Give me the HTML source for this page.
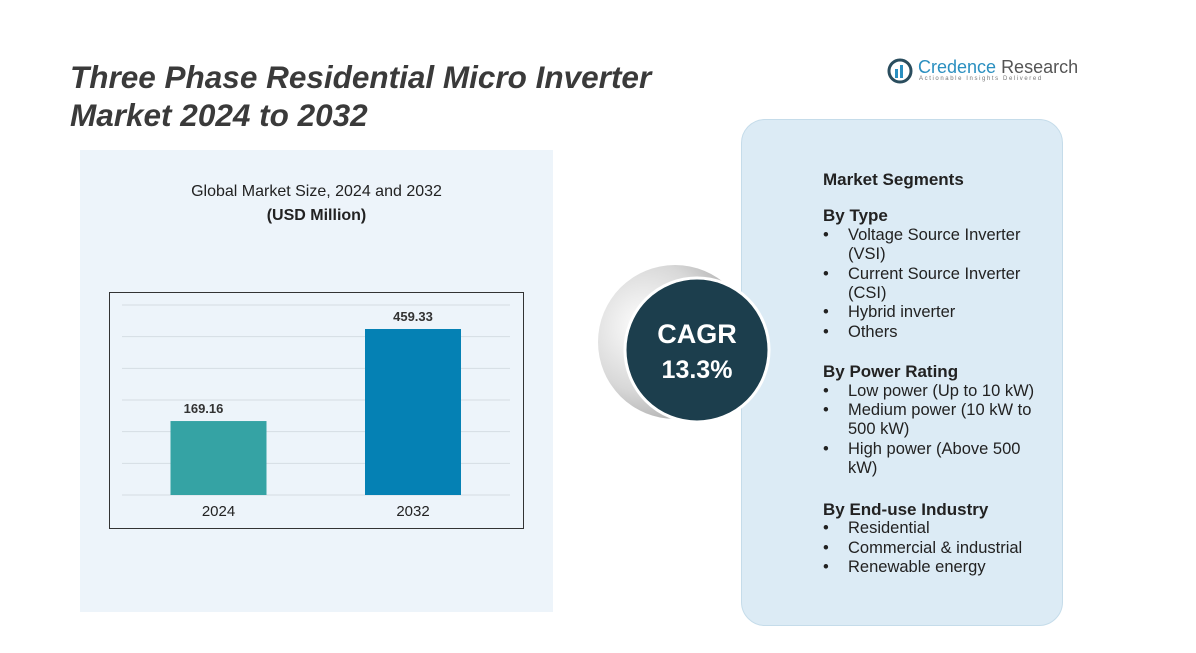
<!DOCTYPE html>
<html><head><meta charset="utf-8"><style>
body{margin:0;width:1196px;height:653px;background:#fff;position:relative;overflow:hidden;font-family:"Liberation Sans",sans-serif;color:#222}
.abs{position:absolute}
h1{position:absolute;left:70px;top:58px;margin:0;font-size:31.5px;line-height:38px;font-style:italic;font-weight:bold;color:#3a3a3a}
.seg{left:823px;top:170px;font-size:16.5px;line-height:19.4px;color:#222}
.seg b{display:block;font-size:17px}
.seg ul{margin:0;padding:0;list-style:none}
.seg li{position:relative;padding-left:25px;width:200px}
.seg li:before{content:"•";position:absolute;left:0}
</style></head><body>
<div class="abs" style="left:80px;top:150px;width:473px;height:462px;background:#edf4fa"></div>
<h1>Three Phase Residential Micro Inverter<br>Market 2024 to 2032</h1>
<div class="abs" style="left:887px;top:58px;">
 <svg width="28" height="26" class="abs" style="left:0;top:0"><circle cx="13" cy="13" r="11" fill="none" stroke="#2a4d5e" stroke-width="3"/><rect x="8" y="11" width="3" height="9" fill="#2a8fc0"/><rect x="13" y="7" width="3" height="13" fill="#2a8fc0"/></svg>
 <div class="abs" style="left:31px;top:-1px;font-size:18px;white-space:nowrap;color:#2a8fc0">Credence <span style="color:#555">Research</span></div>
 <div class="abs" style="left:32px;top:18px;font-size:6px;letter-spacing:1.6px;white-space:nowrap;color:#777">Actionable Insights Delivered</div>
</div>
<div class="abs" style="left:80px;width:473px;top:180px;text-align:center;font-size:16px;line-height:24px">Global Market Size, 2024 and 2032<br><b>(USD Million)</b></div>
<svg class="abs" style="left:0;top:0" width="1196" height="653" id="chart">
 <rect x="109.5" y="292.5" width="414" height="236" fill="none" stroke="#333" stroke-width="1"/>
 <g id="grid"></g><g id="bars"></g>
</svg>
<div class="abs" style="left:741px;top:119px;width:320px;height:505px;background:#dcebf5;border:1.5px solid #c5dcea;border-radius:24px"></div>
<svg class="abs" style="left:0;top:0" width="1196" height="653">
 <defs><radialGradient id="halo" cx="0.3" cy="0.4" r="0.7"><stop offset="0" stop-color="#fff"/><stop offset="0.6" stop-color="#d8d8d8"/><stop offset="1" stop-color="#a8a8a8"/></radialGradient></defs>
 <circle cx="675" cy="342" r="77" fill="url(#halo)"/>
 <circle cx="697" cy="350" r="72" fill="#1c3e4d" stroke="#fff" stroke-width="3"/>
 <text x="697" y="343" text-anchor="middle" fill="#fff" font-size="27" font-weight="bold">CAGR</text>
 <text x="697" y="378" text-anchor="middle" fill="#fff" font-size="25" font-weight="bold">13.3%</text>
</svg>
<div class="abs seg">
<b style="margin-bottom:17px">Market Segments</b>
<b>By Type</b>
<ul><li>Voltage Source Inverter (VSI)</li><li>Current Source Inverter (CSI)</li><li>Hybrid inverter</li><li>Others</li></ul>
<b style="margin-top:20px">By Power Rating</b>
<ul><li>Low power (Up to 10 kW)</li><li>Medium power (10 kW to 500 kW)</li><li style="width:185px">High power (Above 500 kW)</li></ul>
<b style="margin-top:21px">By End-use Industry</b>
<ul><li>Residential</li><li>Commercial &amp; industrial</li><li>Renewable energy</li></ul>
</div>
<script>
const categories=["2024","2032"];
const values=[169.16,459.33];
const valueLabels=["169.16","459.33"];
const colors=["#35a3a4","#0581b4"];
const yMin=-64, yMax=535, nGrid=6;
const y0=495, yTop=305;
const scale=(y0-yTop)/(yMax-yMin);
function barTop(v){return y0-(v-yMin)*scale;}
function xCenter(i){return 218.5+i*194.5;}
const ns="http://www.w3.org/2000/svg";
const grid=document.getElementById('grid'),bars=document.getElementById('bars');
for(let k=0;k<=nGrid;k++){const gy=y0-k*(y0-yTop)/nGrid;const l=document.createElementNS(ns,'line');
l.setAttribute('x1',122);l.setAttribute('x2',510);l.setAttribute('y1',gy);l.setAttribute('y2',gy);l.setAttribute('stroke','#d5dde3');


grid.appendChild(l);}
categories.forEach((c,i)=>{const t=barTop(values[i]);const r=document.createElementNS(ns,'rect');
r.setAttribute('x',xCenter(i)-48);r.setAttribute('width',96);r.setAttribute('y',t);r.setAttribute('height',y0-t);r.setAttribute('fill',colors[i]);


bars.appendChild(r);
const vl=document.createElementNS(ns,'text');vl.setAttribute('x',xCenter(i)-(i?0:15));vl.setAttribute('y',t-8);vl.setAttribute('text-anchor','middle');vl.setAttribute('font-size','13');vl.setAttribute('font-weight','bold');vl.setAttribute('fill','#333');vl.textContent=valueLabels[i];


bars.appendChild(vl);
const cl=document.createElementNS(ns,'text');cl.setAttribute('x',xCenter(i));cl.setAttribute('y',516);cl.setAttribute('text-anchor','middle');cl.setAttribute('font-size','15');cl.setAttribute('fill','#222');cl.textContent=c;


bars.appendChild(cl);});
</script>
</body></html>
